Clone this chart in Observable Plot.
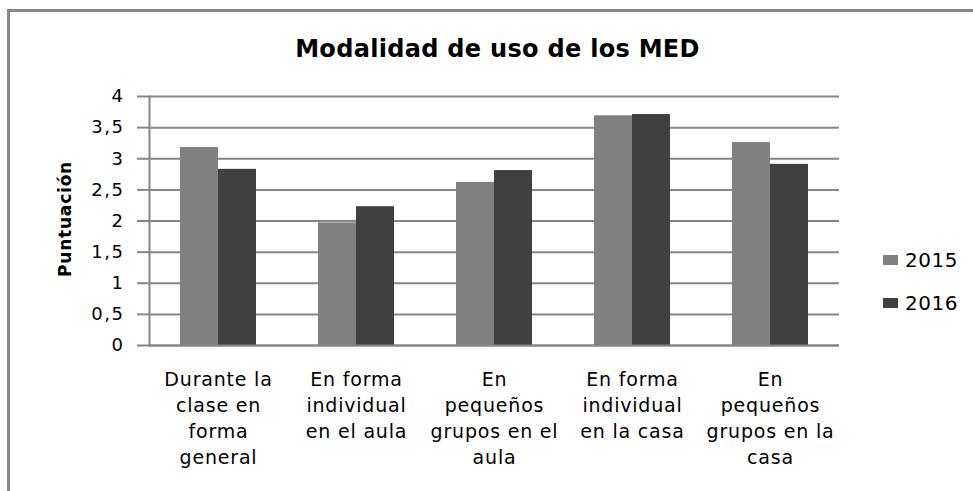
<!DOCTYPE html>
<html><head><meta charset="utf-8">
<script src="https://cdn.jsdelivr.net/npm/d3@7"></script>
<script src="https://cdn.jsdelivr.net/npm/@observablehq/plot@0.6"></script>
<style>
body{margin:0;background:#fff;}
#wrap{position:relative;width:973px;height:491px;overflow:hidden;font-family:"DejaVu Sans",sans-serif;background:#fff;}
#wrap svg{position:absolute;left:0;top:0;}
#border{position:absolute;left:7px;top:9px;width:1100px;height:700px;border:3px solid #878787;box-sizing:border-box;pointer-events:none;}
#title{position:absolute;left:0;width:995px;top:37px;text-align:center;font-size:24px;line-height:24px;font-weight:bold;color:#000;letter-spacing:0.3px;}
.leg{position:absolute;left:883px;height:24px;display:flex;align-items:center;font-size:20px;color:#000;letter-spacing:0.5px;}
.sw{width:15px;height:10px;margin-right:7px;}
g[aria-label="y-axis tick label"] text{letter-spacing:1.5px;}
g[aria-label="fx-axis tick label"] text{letter-spacing:0.8px;}
g[aria-label="text"] text{letter-spacing:0.8px;}
</style>
</head><body>
<div id="wrap">
  <div id="title"></div>
  <div id="legend"></div>
  <div id="border"></div>
</div>
<script>
const titleText = "Modalidad de uso de los MED";
const yLabel = ["Puntuación"];
const categories = [
  "Durante la clase en forma general",
  "En forma individual en el aula",
  "En pequeños grupos en el aula",
  "En forma individual en la casa",
  "En pequeños grupos en la casa"
];
const categoryLines = [
  "Durante la\nclase en\nforma\ngeneral",
  "En forma\nindividual\nen el aula",
  "En\npequeños\ngrupos en el\naula",
  "En forma\nindividual\nen la casa",
  "En\npequeños\ngrupos en la\ncasa"
];
const years = ["2015", "2016"];
const values2015 = [3.18, 1.97, 2.62, 3.69, 3.26];
const values2016 = [2.83, 2.23, 2.81, 3.71, 2.91];
const yTicks = [0, 0.5, 1, 1.5, 2, 2.5, 3, 3.5, 4];
const colors = ["#808080", "#404040"];

const rows = categories.flatMap((c, i) => [
  {cat: c, year: years[0], v: values2015[i]},
  {cat: c, year: years[1], v: values2016[i]}
]);

const chart = Plot.plot({
  width: 973, height: 491,
  marginTop: 96, marginBottom: 146, marginLeft: 147, marginRight: 133,
  style: {fontFamily: "DejaVu Sans", background: "transparent", color: "#000"},
  fx: {domain: categories, padding: 0, label: null},
  x: {domain: years, paddingInner: 0, paddingOuter: 0.8, axis: null},
  y: {domain: [0, 4]},
  color: {domain: years, range: colors},
  marks: [
    Plot.gridY(yTicks, {stroke: "#868686", strokeOpacity: 1, strokeWidth: 2}),
    Plot.barY(rows, {fx: "cat", x: "year", y: "v", fill: "year"}),
    Plot.ruleY([0], {stroke: "#868686", strokeWidth: 2}),
    Plot.frame({anchor: "left", facetAnchor: "left", stroke: "#868686", strokeWidth: 2}),
    Plot.axisY(yTicks, {
      tickFormat: d => String(d).replace(".", ","),
      tickSize: 12, tickPadding: 13, stroke: "#868686", strokeWidth: 2,
      fill: "#000", fontSize: 18, label: null
    }),
    Plot.text(yLabel, {
      text: d => d, frameAnchor: "left", facetAnchor: "left", rotate: -90,
      textAnchor: "middle", dx: -84, dy: -2, fontWeight: "bold", fontSize: 17, fill: "#000"
    }),
    Plot.axisFx({
      anchor: "bottom", tickSize: 0, tickPadding: 22, label: null,
      tickFormat: c => categoryLines[categories.indexOf(c)],
      fontSize: 19, lineHeight: 1.37, fill: "#000"
    })
  ]
});
document.getElementById("wrap").insertBefore(chart, document.getElementById("title"));
document.getElementById("title").textContent = titleText;
const legend = document.getElementById("legend");
const legendTops = [248, 291];
years.forEach((y, i) => {
  const row = document.createElement("div");
  row.className = "leg";
  row.style.top = legendTops[i] + "px";
  const sw = document.createElement("span");
  sw.className = "sw";
  sw.style.background = colors[i];
  row.appendChild(sw);
  row.appendChild(document.createTextNode(y));
  legend.appendChild(row);
});
</script>
</body></html>
